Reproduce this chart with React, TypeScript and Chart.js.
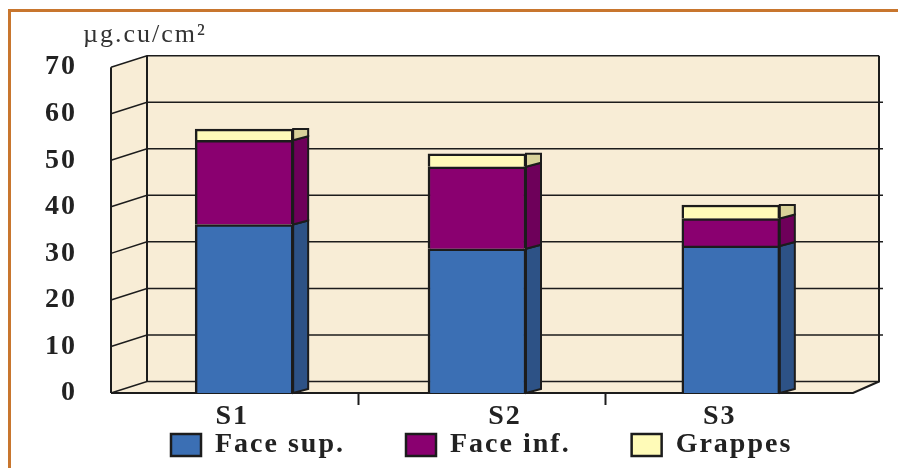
import React, { useEffect, useRef } from "react";
import { Chart, registerables } from "chart.js";

Chart.register(...registerables);

const sites = ["S1", "S2", "S3"];
const faceSup = [36.2, 31.0, 31.6];
const faceInf = [18.1, 17.6, 5.9];
const grappes = [2.4, 2.8, 2.9];
const yMax = 70;
const yStep = 10;
const unitLabel = "µg.cu/cm²";

const barNudge = [9.5, -5, 1.5];
const labelNudge = [-2.5, 23, -9.5];

const WALL = "#F8EDD6";
const LINE = "#1c1c1c";
const SIDE_COLORS = ["#2D5286", "#6E005A", "#D8D29A"];
const SPACING = "2px";

const cover3d = {
  id: "cover3d",
  beforeLayout(chart: any) {
    chart.ctx.letterSpacing = SPACING;
    const lg = chart.legend;
    if (lg && !lg.__patched) {
      lg.__patched = true;
      const fit = lg.fit.bind(lg);
      lg.fit = () => {
        fit();
        lg.height = 35;
      };
    }
  },
  afterLayout(chart: any) {
    if (chart.titleBlock) chart.titleBlock.left = 83;
    const lg = chart.legend;
    if (lg) {
      lg.left = 171 - lg.options.labels.padding;
      lg.right = 1200;
      lg.top = 445 - 14 - lg.options.labels.padding;
    }
  },
  afterDatasetsUpdate(chart: any) {
    chart.data.datasets.forEach((_: any, d: number) => {
      chart.getDatasetMeta(d).data.forEach((el: any, i: number) => {
        el.x += barNudge[i];
      });
    });
  },
  beforeDraw(chart: any) {
    const { ctx, chartArea: a } = chart;
    const y = chart.scales.y;
    const xs = chart.scales.x;
    ctx.letterSpacing = SPACING;

    xs.getLabelItems().forEach((item: any, i: number) => {
      if (!item.__n) {
        item.__n = true;
        const [tx, ty] = item.options.translation;
        item.options.translation = [tx + labelNudge[i], ty - 5];
      }
    });

    ctx.save();
    ctx.fillStyle = "#fff";
    ctx.fillRect(0, 0, chart.width, chart.height);
    ctx.strokeStyle = "#C8762E";
    ctx.lineWidth = 3;
    ctx.beginPath();
    ctx.moveTo(898, 10.5);
    ctx.lineTo(9.5, 10.5);
    ctx.lineTo(9.5, 468);
    ctx.stroke();

    const leftDx = 36;
    const rightDx = 26;
    const dy = -11.5;
    const y0 = y.getPixelForValue(0);
    const yTop = y.getPixelForValue(yMax);
    const backL = a.left + leftDx;
    const backR = a.right + rightDx;

    ctx.fillStyle = WALL;
    ctx.beginPath();
    ctx.moveTo(a.left, y0);
    ctx.lineTo(a.right, y0);
    ctx.lineTo(backR, y0 + dy);
    ctx.lineTo(backR, yTop + dy);
    ctx.lineTo(backL, yTop + dy);
    ctx.lineTo(a.left, yTop);
    ctx.closePath();
    ctx.fill();

    ctx.strokeStyle = LINE;
    ctx.lineWidth = 1.5;
    y.ticks.forEach((t: any) => {
      const py = y.getPixelForValue(t.value);
      ctx.beginPath();
      ctx.moveTo(a.left, py);
      ctx.lineTo(backL, py + dy);
      if (t.value === yMax || t.value === 0) ctx.lineTo(backR, py + dy);
      else ctx.lineTo(backR + 4, py + dy);
      ctx.stroke();
    });
    ctx.lineWidth = 2;
    ctx.beginPath();
    ctx.moveTo(a.left, y0);
    ctx.lineTo(a.left, yTop);
    ctx.moveTo(backL, yTop + dy);
    ctx.lineTo(backL, y0 + dy);
    ctx.moveTo(backR, yTop + dy);
    ctx.lineTo(backR, y0 + dy);
    ctx.lineTo(a.right, y0);
    ctx.lineTo(a.left, y0);
    ctx.stroke();
    ctx.restore();
  },
  afterDatasetsDraw(chart: any) {
    const { ctx } = chart;
    const depth = 15;
    const rise = 4;
    ctx.save();
    ctx.strokeStyle = LINE;
    ctx.lineWidth = 2;
    chart.data.datasets.forEach((_: any, d: number) => {
      chart.getDatasetMeta(d).data.forEach((el: any) => {
        const p = el.getProps(["x", "y", "base", "width"], true);
        const r = p.x + p.width / 2;
        const flatTop = d === chart.data.datasets.length - 1;
        ctx.fillStyle = SIDE_COLORS[d];
        ctx.beginPath();
        ctx.moveTo(r, p.y);
        ctx.lineTo(r + depth, flatTop ? p.y : p.y - rise);
        ctx.lineTo(r + depth, p.base - rise);
        ctx.lineTo(r, p.base);
        ctx.closePath();
        ctx.fill();
        ctx.stroke();
      });
    });
    ctx.restore();
  },
};

export default function App() {
  const ref = useRef<HTMLCanvasElement>(null);
  useEffect(() => {
    const chart = new Chart(ref.current as HTMLCanvasElement, {
      type: "bar",
      data: {
        labels: sites,
        datasets: [
          { label: "Face sup.", data: faceSup, backgroundColor: "#3B6FB4" },
          { label: "Face inf.", data: faceInf, backgroundColor: "#8A0070" },
          { label: "Grappes", data: grappes, backgroundColor: "#FFFBB8" },
        ].map((d) => ({ ...d, borderColor: LINE, borderWidth: 2.5, barThickness: 98 })),
      },
      options: {
        responsive: false,
        animation: false,
        layout: { padding: { right: 45 } },
        plugins: {
          title: {
            display: true,
            text: unitLabel,
            align: "start",
            color: "#333",
            font: { family: "Liberation Serif", size: 26, weight: "normal" },
            padding: { top: 20, bottom: 16 },
          },
          legend: {
            position: "bottom",
            align: "start",
            labels: {
              boxWidth: 30,
              boxHeight: 22,
              padding: 61,
              color: "#222",
              font: { family: "Liberation Serif", size: 28, weight: "bold" },
            },
          },
          tooltip: { enabled: false },
        },
        scales: {
          x: {
            stacked: true,
            afterFit: (s: any) => {
              s.height = 40;
            },
            border: { display: false },
            grid: {
              offset: true,
              drawOnChartArea: false,
              drawTicks: true,
              tickLength: 12,
              tickWidth: 2,
              color: (c: any) => (!c.tick || !c.index ? "transparent" : LINE),
            },
            ticks: {
              color: "#222",
              padding: 0,
              maxRotation: 0,
              font: { family: "Liberation Serif", size: 28, weight: "bold" },
            },
          },
          y: {
            stacked: true,
            min: 0,
            max: yMax,
            afterFit: (s: any) => {
              s.width = 111;
            },
            border: { display: false },
            grid: { display: false, drawTicks: false },
            ticks: {
              stepSize: yStep,
              color: "#222",
              padding: 34,
              font: { family: "Liberation Serif", size: 28, weight: "bold" },
            },
          },
        },
      } as any,
      plugins: [cover3d as any],
    });
    return () => chart.destroy();
  }, []);
  return (
    <div style={{ position: "fixed", left: 0, top: 0, width: 898, height: 468 }}>
      <canvas ref={ref} width={898} height={468} style={{ display: "block" }} />
    </div>
  );
}
